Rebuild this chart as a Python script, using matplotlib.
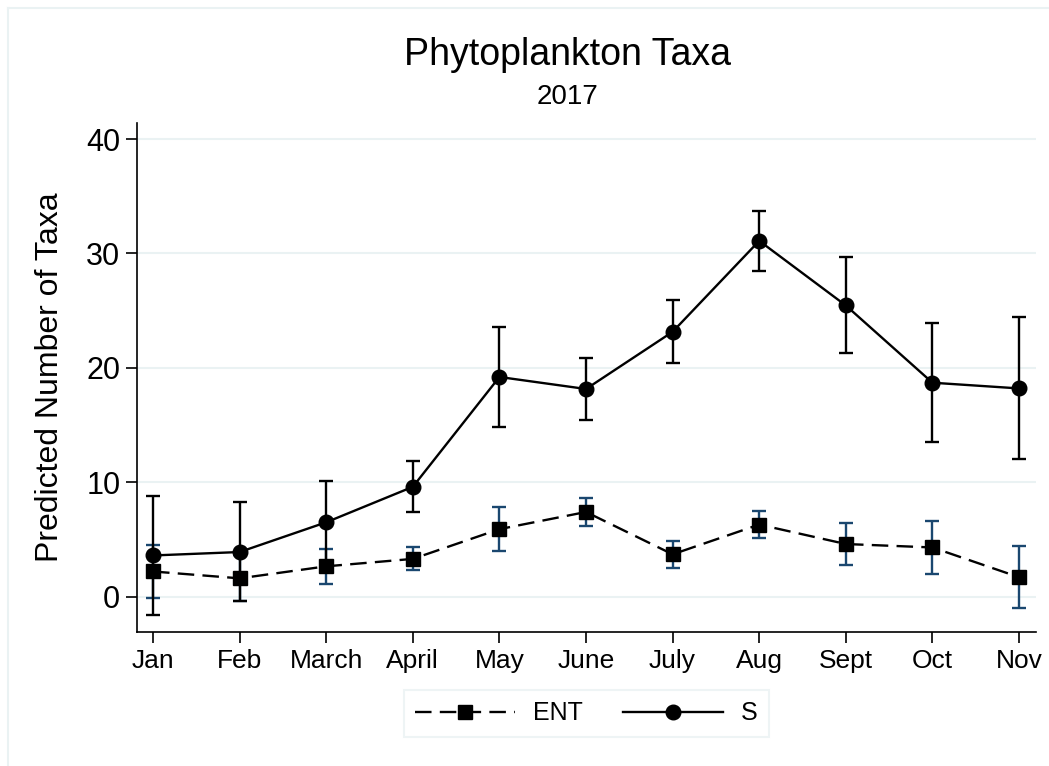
import matplotlib
matplotlib.use("Agg")
import matplotlib.pyplot as plt
from matplotlib.lines import Line2D
import numpy as np

months = ["Jan", "Feb", "March", "April", "May", "June", "July", "Aug", "Sept", "Oct", "Nov"]

ent = [2.2, 1.6, 2.65, 3.3, 5.9, 7.4, 3.7, 6.3, 4.6, 4.3, 1.7]
ent_lo = [-0.1, -0.4, 1.1, 2.35, 4.0, 6.2, 2.5, 5.15, 2.8, 2.0, -1.0]
ent_hi = [4.5, 3.6, 4.2, 4.35, 7.85, 8.6, 4.9, 7.45, 6.45, 6.6, 4.45]

s = [3.6, 3.9, 6.5, 9.6, 19.2, 18.15, 23.15, 31.1, 25.45, 18.7, 18.2]
s_lo = [-1.6, -0.4, 2.9, 7.4, 14.8, 15.4, 20.4, 28.5, 21.3, 13.5, 12.05]
s_hi = [8.8, 8.3, 10.1, 11.9, 23.6, 20.9, 25.9, 33.7, 29.65, 23.95, 24.4]

yticks = [0, 10, 20, 30, 40]

plt.rcParams['font.family'] = ['Liberation Sans', 'DejaVu Sans']

W, H = 1049, 766
fig = plt.figure(figsize=(W / 100, H / 100), dpi=100)
fig.patch.set_facecolor('white')

# outer light frame
fig.add_artist(Line2D([8 / W, 8 / W], [0, 1 - 8 / H], color='#eaf2f3', lw=1.5, transform=fig.transFigure))
fig.add_artist(Line2D([8 / W, 1], [1 - 8 / H, 1 - 8 / H], color='#eaf2f3', lw=1.5, transform=fig.transFigure))

left, right, bottom, top = 137 / W, 1036 / W, 1 - 632 / H, 1 - 123 / H
ax = fig.add_axes([left, bottom, right - left, top - bottom])

x = np.arange(len(months))
ent_a = np.array(ent); s_a = np.array(s)
ent_err = [ent_a - np.array(ent_lo), np.array(ent_hi) - ent_a]
s_err = [s_a - np.array(s_lo), np.array(s_hi) - s_a]

for yv in yticks:
    ax.axhline(yv, color='#eaf2f3', lw=1.5, zorder=0)

ax.errorbar(x, ent, yerr=ent_err, fmt='none', ecolor='#1a476f', elinewidth=1.7,
            capsize=5, capthick=1.7, zorder=2)
ax.plot(x, ent, color='black', lw=1.7, dashes=(7, 3.5), marker='s', markersize=10.5,
        markerfacecolor='black', markeredgecolor='black', zorder=3, label='ENT')
ax.errorbar(x, s, yerr=s_err, fmt='none', ecolor='black', elinewidth=1.7,
            capsize=5, capthick=1.7, zorder=4)
ax.plot(x, s, color='black', lw=1.7, marker='o', markersize=10.5,
        markerfacecolor='black', markeredgecolor='black', zorder=5, label='S')

ax.set_xlim(-0.185, 10.196)
ax.set_ylim(-3.09, 41.4)
ax.set_xticks(x)
ax.set_xticklabels(months, fontsize=19)
ax.set_yticks(yticks)
ax.set_yticklabels([str(v) for v in yticks], fontsize=22)
ax.tick_params(axis='both', direction='out', length=8, width=1.2, color='black', pad=4)
for sp in ['top', 'right']:
    ax.spines[sp].set_visible(False)
for sp in ['left', 'bottom']:
    ax.spines[sp].set_linewidth(1.2)
ax.set_ylabel("Predicted Number of Taxa", fontsize=23)
ax.yaxis.label.set_va('center')
ax.yaxis.set_label_coords((50 - 137) / (1036 - 137), 0.5)

fig.text(568 / W, 1 - 55 / H, "Phytoplankton Taxa", ha='center', va='center', fontsize=27)
fig.text(568 / W, 1 - 97 / H, "2017", ha='center', va='center', fontsize=20)

handles, labels = ax.get_legend_handles_labels()
leg = fig.legend(handles, labels, loc='upper center', bbox_to_anchor=((left + right) / 2, 1 - 690 / H),
                 ncol=2, fontsize=18, frameon=True, fancybox=False, handlelength=4.0,
                 columnspacing=1.6, handletextpad=0.72, borderpad=0.45, borderaxespad=0)
leg.get_frame().set_edgecolor('#eaf2f3')
leg.get_frame().set_linewidth(1.5)

fig.savefig("out.png", dpi=100, facecolor='white')
